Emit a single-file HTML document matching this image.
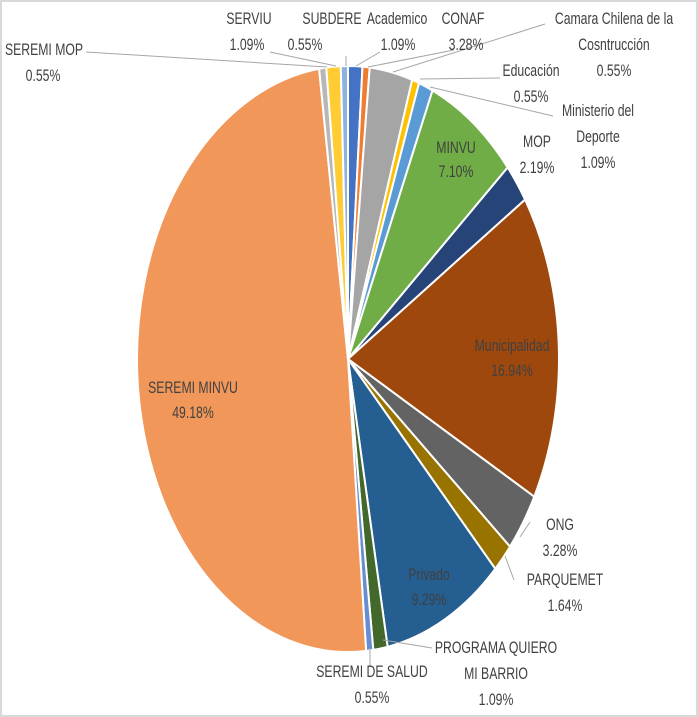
<!DOCTYPE html>
<html><head><meta charset="utf-8"><style>
html,body{margin:0;padding:0;background:#fff}
svg{display:block}
text{font-family:"Liberation Sans",sans-serif;font-size:17px;fill:#404040;text-anchor:middle}
</style></head><body>
<svg id="s" width="698" height="717" viewBox="0 0 698 717" xmlns="http://www.w3.org/2000/svg">
<rect x="1" y="1" width="696" height="715" fill="#fff" stroke="#d9d9d9" stroke-width="2"/>
<g id="pie"></g>
<g stroke="#a6a6a6" stroke-width="1" fill="none">
<path d="M86 52 L327 67"/>
<path d="M270 52 L336 66"/>
<path d="M346 56 L346 66"/>
<path d="M380 52 L356 66"/>
<path d="M454 50 L368 67"/>
<path d="M545 24 L393 72"/>
<path d="M500 78 L420 79"/>
<path d="M553 116 L430 87"/>
<path d="M520 537 L530 522"/>
<path d="M514 580 L505 556"/>
<path d="M432 648 L383 640"/>
<path d="M370 667 L370 648"/>
</g>
<g id="lbl">
<text x="44" y="55">SEREMI MOP</text><text x="43" y="81">0.55%</text>
<text x="249" y="24">SERVIU</text><text x="247" y="50">1.09%</text>
<text x="332" y="24">SUBDERE</text><text x="305" y="50">0.55%</text>
<text x="397" y="24">Academico</text><text x="398" y="50">1.09%</text>
<text x="463" y="24">CONAF</text><text x="466" y="50">3.28%</text>
<text x="614" y="24">Camara Chilena de la</text><text x="614" y="50">Cosntrucción</text><text x="614" y="76">0.55%</text>
<text x="531" y="76">Educación</text><text x="531" y="102">0.55%</text>
<text x="598" y="116">Ministerio del</text><text x="598" y="142">Deporte</text><text x="598" y="168">1.09%</text>
<text x="537" y="147">MOP</text><text x="537" y="173">2.19%</text>
<text x="456" y="153">MINVU</text><text x="456" y="177">7.10%</text>
<text x="512" y="351">Municipalidad</text><text x="512" y="376">16.94%</text>
<text x="193" y="393">SEREMI MINVU</text><text x="193" y="418">49.18%</text>
<text x="429" y="580">Privado</text><text x="429" y="605">9.29%</text>
<text x="560" y="530">ONG</text><text x="560" y="556">3.28%</text>
<text x="565" y="585">PARQUEMET</text><text x="565" y="611">1.64%</text>
<text x="496" y="653">PROGRAMA QUIERO</text><text x="496" y="679">MI BARRIO</text><text x="496" y="705">1.09%</text>
<text x="372" y="677">SEREMI DE SALUD</text><text x="372" y="703">0.55%</text>
</g>
</svg>
<script>
var d=[[2,"#4472C4"],[1,"#ED7D31"],[6,"#A5A5A5"],[1,"#FFC000"],[2,"#5B9BD5"],[13,"#70AD47"],[4,"#264478"],[31,"#9E480E"],[6,"#636363"],[3,"#997300"],[17,"#255E91"],[2,"#43682B"],[1,"#698ED0"],[90,"#F1975A"],[1,"#B7B7B7"],[2,"#FFCD33"],[1,"#8CB3E0"]];
var cx=348,cy=359,rx=211,ry=293,tot=183,a=0,h="";
function p(t){var th=t/tot*2*Math.PI;return [(cx+rx*Math.sin(th)).toFixed(2),(cy-ry*Math.cos(th)).toFixed(2)];}
d.forEach(function(s){var p0=p(a),p1=p(a+s[0]);var lg=s[0]/tot>0.5?1:0;
h+='<path d="M'+cx+' '+cy+' L'+p0[0]+' '+p0[1]+' A'+rx+' '+ry+' 0 '+lg+' 1 '+p1[0]+' '+p1[1]+' Z" fill="'+s[1]+'" stroke="#fff" stroke-width="2"/>';a+=s[0];});
document.getElementById("pie").innerHTML=h;
var ts=document.querySelectorAll("#lbl text");
for(var i=0;i<ts.length;i++){var x=ts[i].getAttribute("x");ts[i].setAttribute("transform","translate("+x+",0) scale(0.72,1) translate("+(-x)+",0)");}
</script>
</body></html>
